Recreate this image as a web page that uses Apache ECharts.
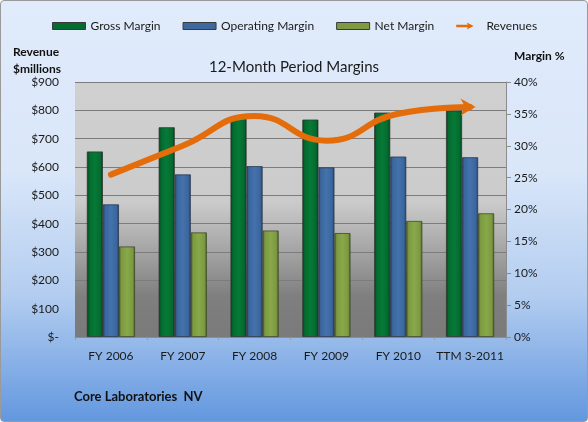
<!DOCTYPE html>
<html>
<head>
<meta charset="utf-8">
<script src="https://cdn.jsdelivr.net/npm/echarts@6/dist/echarts.min.js"></script>
<style>
html,body{margin:0;padding:0;}
#wrap{width:588px;height:422px;position:relative;}
#chart{position:absolute;left:0;top:0;width:586px;height:420px;border:1px solid #9a9a9a;border-radius:4px;
background:linear-gradient(to bottom,#e0ebfb 0%,#dae7f9 40%,#b3cdf0 70%,#6398df 100%);}
</style>
</head>
<body>
<div id="wrap"><div id="chart"></div></div>
<script>
const categories = ['FY 2006', 'FY 2007', 'FY 2008', 'FY 2009', 'FY 2010', 'TTM 3-2011'];
const grossMargin = [29.1, 32.9, 34.6, 34.1, 35.2, 35.5];
const operatingMargin = [20.8, 25.5, 26.8, 26.6, 28.3, 28.2];
const netMargin = [14.2, 16.4, 16.7, 16.3, 18.2, 19.4];
const revenues = [573, 675, 780, 693, 788, 812];
const revenueTicks = [0, 900, 100];
const marginTicks = [0, 40, 5];

const FONT = 'Lato';
function barGrad(edge, main, light) {
  return new echarts.graphic.LinearGradient(0, 0, 1, 0, [
    {offset: 0, color: edge}, {offset: 0.15, color: main}, {offset: 0.5, color: light},
    {offset: 0.85, color: main}, {offset: 1, color: edge}
  ]);
}
const chart = echarts.init(document.getElementById('chart'));
const revData = revenues.map((v, i) => i === revenues.length - 1
  ? {value: v, symbol: 'path://M0,0 L10,6 L0,12 L3,6 Z', symbolSize: [15, 17], symbolKeepAspect: false, symbolOffset: [-2, 0], itemStyle: {color: '#e46c0a'}}
  : v);
chart.setOption({
  animation: false,
  textStyle: {fontFamily: FONT},
  title: {
    text: '12-Month Period Margins', left: 'center', top: 54,
    textStyle: {fontFamily: FONT, fontSize: 15, fontWeight: 'normal', color: '#1a1a1a'}
  },
  legend: {
    top: 14, left: 46, itemGap: 22, itemWidth: 33, itemHeight: 7,
    textStyle: {fontFamily: FONT, fontSize: 12, color: '#1a1a1a'},
    data: [
      {name: 'Gross Margin', icon: 'rect', itemStyle: {color: '#056b30', borderColor: '#3a3a3a', borderWidth: 1}},
      {name: 'Operating Margin', icon: 'rect', itemStyle: {color: '#3d68a0', borderColor: '#3a3a3a', borderWidth: 1}},
      {name: 'Net Margin', icon: 'rect', itemStyle: {color: '#7e9b43', borderColor: '#3a3a3a', borderWidth: 1}},
      {name: 'Revenues', icon: 'path://M0,4 L20,4 L18,0 L30,6 L18,12 L20,8 L0,8 Z', itemStyle: {color: '#e46c0a'}}
    ]
  },
  grid: {
    left: 74, right: 81, top: 81, bottom: 84, show: true, borderWidth: 0,
    backgroundColor: new echarts.graphic.LinearGradient(0, 0, 0, 1, [
      {offset: 0, color: '#d0d0d0'}, {offset: 0.47, color: '#cbcbcb'},
      {offset: 0.64, color: '#a9a9a9'}, {offset: 0.84, color: '#7f7f7f'}, {offset: 1, color: '#7a7a7a'}
    ])
  },
  xAxis: {
    type: 'category', data: categories,
    axisLine: {lineStyle: {color: '#8c8c8c', width: 1}},
    axisTick: {show: true, length: 3, lineStyle: {color: '#9a9a9a'}},
    axisLabel: {fontFamily: FONT, fontSize: 12, color: '#1a1a1a', margin: 13, interval: 0}
  },
  yAxis: [
    {
      type: 'value', min: revenueTicks[0], max: revenueTicks[1], interval: revenueTicks[2],
      axisLine: {show: false}, axisTick: {show: false},
      splitLine: {lineStyle: {color: '#7c7c7c', width: 1}},
      axisLabel: {fontFamily: FONT, fontSize: 12, color: '#1a1a1a', margin: 16,
        formatter: v => v === 0 ? '$-' : '$' + v}
    },
    {
      type: 'value', min: marginTicks[0], max: marginTicks[1], interval: marginTicks[2],
      axisLine: {show: true, lineStyle: {color: '#8c8c8c'}},
      axisTick: {show: true, length: 5, lineStyle: {color: '#8c8c8c'}},
      splitLine: {show: false},
      axisLabel: {fontFamily: FONT, fontSize: 12, color: '#1a1a1a', margin: 8, formatter: '{value}%'}
    }
  ],
  graphic: [
    {type: 'text', left: 12, top: 43, style: {text: 'Revenue\n$millions', font: 'bold 12px Lato', fill: '#111', lineHeight: 17}},
    {type: 'text', left: 513, top: 49, style: {text: 'Margin %', font: 'bold 12px Lato', fill: '#111'}},
    {type: 'text', left: 73, top: 389, style: {text: 'Core Laboratories  NV', font: 'bold 13px Lato', fill: '#111'}}
  ],
  series: [
    {name: 'Gross Margin', type: 'bar', yAxisIndex: 1, data: grossMargin, barGap: '0%', barCategoryGap: '33%',
      itemStyle: {color: barGrad('#013d1a', '#046a2f', '#067a37'), borderColor: '#2e3a30', borderWidth: 0.8}},
    {name: 'Operating Margin', type: 'bar', yAxisIndex: 1, data: operatingMargin, barGap: '0%', barCategoryGap: '33%',
      itemStyle: {color: barGrad('#243f63', '#3b669e', '#4472ac'), borderColor: '#2a3a50', borderWidth: 0.8}},
    {name: 'Net Margin', type: 'bar', yAxisIndex: 1, data: netMargin, barGap: '0%', barCategoryGap: '33%',
      itemStyle: {color: barGrad('#4b5e25', '#7c9a41', '#88a84a'), borderColor: '#3f4a2a', borderWidth: 0.8}},
    {name: 'Revenues', type: 'line', yAxisIndex: 0, data: revData, smooth: 0.5, z: 5,
      symbol: 'none', showSymbol: true, lineStyle: {color: '#e46c0a', width: 6, cap: 'round'},
      itemStyle: {color: '#e46c0a'}}
  ]
});
</script>
</body>
</html>
